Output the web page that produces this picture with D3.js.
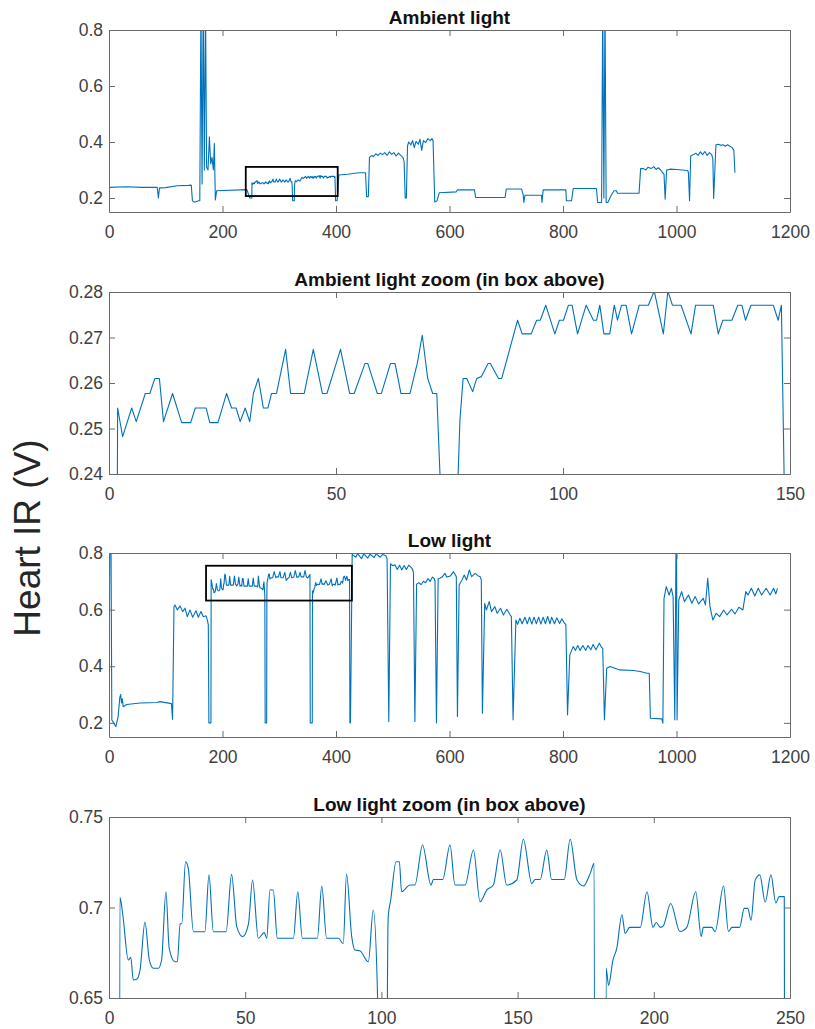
<!DOCTYPE html>
<html>
<head>
<meta charset="utf-8">
<script src="https://cdn.jsdelivr.net/npm/d3@7"></script>
<style>
body { margin: 0; background: #fff; }
text { font-family: Arial, "Liberation Sans", Helvetica, sans-serif; }
</style>
</head>
<body>
<svg id="chart" width="815" height="1029"></svg>
<script>
// ---- data: [sample, volts] ----
var ambientHead = [[0,0.238],[30,0.24],[60,0.238],[85,0.238],[87,0.2],[89,0.236],[100,0.237],[120,0.244],[140,0.245],[145,0.246],[147,0.19],[150,0.185],[158,0.19],[160,0.19],[162,0.9],[164,0.25],[166,0.9],[168,0.3],[170,0.9],[172,0.31],[174.5,0.3],[176.9,0.419],[179.2,0.322],[181.5,0.345],[183.9,0.3],[185.6,0.395],[187.4,0.193],[189.7,0.226],[243,0.23],[248,0.2]];

var ambientZoom = [[0,0.2],[1.7,0.2],[1.9,0.2545],[3,0.2482],[5,0.2545],[6,0.2515],[8,0.2577],[9,0.2577],[10.1,0.261],[11.1,0.261],[12,0.2515],[14,0.2577],[16,0.2513],[18,0.2513],[19,0.2545],[21.4,0.2545],[22.2,0.2513],[24,0.2513],[25.9,0.2577],[27,0.2545],[28,0.2545],[28.9,0.2515],[30,0.2545],[31,0.2515],[31.8,0.2577],[32.9,0.261],[34,0.2545],[35,0.2545],[35.8,0.2577],[36.9,0.2577],[38.9,0.2674],[40,0.2577],[43,0.2577],[45,0.2674],[47,0.2577],[48,0.2577],[51,0.2674],[53,0.2577],[54,0.2577],[56.4,0.2643],[57,0.2643],[59.1,0.2577],[60,0.2577],[62,0.2643],[63,0.2643],[64.3,0.2577],[66.3,0.2577],[67.9,0.2643],[69,0.2705],[70.2,0.261],[71.3,0.2577],[72.2,0.2577],[72.9,0.24],[73.5,0.19],[76.5,0.19],[76.9,0.24],[77.3,0.2519],[78,0.261],[78.8,0.261],[80.1,0.2581],[81,0.261],[82,0.2614],[83.5,0.2643],[84,0.2643],[85.8,0.261],[86.5,0.261],[90,0.2738],[91,0.2708],[93,0.2708],[94.2,0.2738],[95,0.2738],[96.2,0.2771],[98.2,0.2708],[99.2,0.2738],[100.1,0.2738],[101.2,0.2771],[102,0.2771],[103.2,0.2708],[105.1,0.2771],[106.7,0.2738],[107.4,0.2738],[108.1,0.2771],[109,0.2708],[110.3,0.2708],[111.3,0.2771],[112,0.2738],[112.9,0.2771],[113.9,0.2771],[115.1,0.2708],[116.8,0.2771],[118.8,0.2771],[120.1,0.2802],[122.1,0.2708],[123.1,0.2802],[124.1,0.2771],[126,0.2771],[128.2,0.2708],[129.2,0.2771],[133.1,0.2771],[134.2,0.2708],[135.2,0.2738],[137.2,0.2738],[138.5,0.2771],[139.4,0.2771],[140.2,0.2738],[141.4,0.2771],[146.3,0.2771],[147.4,0.2738],[148.1,0.2771],[148.7,0.24],[149.3,0.19]];

var ambientTail = [[402,0.19],[405,0.282],[420,0.285],[440,0.29],[452,0.29],[454,0.205],[457,0.205],[459,0.345],[463,0.352],[466,0.348],[470,0.358],[474,0.352],[478,0.36],[482,0.355],[486,0.362],[490,0.352],[494,0.365],[498,0.356],[502,0.362],[506,0.35],[510,0.36],[514,0.352],[518,0.345],[520,0.33],[522,0.2],[524,0.2],[526,0.385],[528,0.4],[532,0.39],[535,0.405],[538,0.38],[541,0.402],[545,0.392],[548,0.41],[551,0.37],[554,0.405],[558,0.398],[562,0.412],[566,0.405],[569,0.412],[571,0.405],[574,0.186],[578,0.19],[582,0.219],[612,0.222],[614,0.229],[644,0.229],[646,0.202],[698,0.202],[700,0.232],[727,0.232],[730,0.21],[731,0.184],[733,0.21],[762,0.21],[763,0.184],[765,0.229],[805,0.229],[806,0.19],[815,0.19],[818,0.234],[859,0.234],[861,0.184],[868,0.184],[870,0.9],[872,0.2],[874,0.9],[876,0.184],[879,0.184],[885,0.21],[890,0.226],[894,0.226],[896,0.217],[934,0.217],[936.8,0.305],[942,0.305],[946,0.3],[950,0.31],[955,0.305],[960,0.312],[964,0.302],[968,0.308],[972,0.3],[976,0.29],[978,0.285],[980,0.196],[982.6,0.3],[990,0.303],[1000,0.302],[1010,0.3],[1020,0.298],[1021,0.29],[1023,0.19],[1025,0.35],[1030,0.355],[1034,0.36],[1038,0.352],[1042,0.365],[1046,0.355],[1050,0.366],[1054,0.352],[1058,0.362],[1062,0.355],[1064,0.34],[1065.5,0.198],[1069.5,0.39],[1074,0.392],[1078,0.388],[1082,0.39],[1086,0.385],[1090,0.39],[1094,0.385],[1098,0.38],[1101,0.37],[1103,0.29]];

var lowHead = [[0,0.255],[1.5,0.85],[3.5,0.85],[5,0.21],[8,0.2],[12,0.187],[16,0.22],[19,0.29],[20.6,0.3],[22,0.27],[23.5,0.285],[25,0.257],[31,0.265],[55,0.27],[84,0.272],[90,0.275],[110,0.268],[112,0.213],[114.5,0.61],[116.3,0.6165],[120.4,0.599],[125.1,0.613],[129.8,0.593],[133.9,0.605],[138,0.575],[142.7,0.599],[147.4,0.573],[153.3,0.596],[157.4,0.573],[162.1,0.593],[166.2,0.575],[170.9,0.578],[173.3,0.5635],[175,0.546],[176,0.2]];

var lowZoom = [[0,0.2],[3.65,0.2],[4,0.7056],[5,0.6968],[7.1,0.671],[8,0.6725],[8.9,0.66],[10.2,0.6604],[11.4,0.6655],[13.2,0.692],[14.8,0.671],[16.3,0.6664],[18.1,0.6664],[19.3,0.671],[20.9,0.7087],[22.1,0.6774],[24.2,0.670],[25.1,0.670],[26.1,0.691],[26.7,0.691],[28.1,0.7253],[29.1,0.7217],[31,0.6866],[35.2,0.6866],[36.7,0.718],[38.3,0.6866],[43,0.6866],[45,0.7183],[46.9,0.6894],[49.1,0.6839],[51.2,0.691],[52.7,0.7152],[54.8,0.683],[57,0.6861],[57.9,0.683],[59.1,0.7097],[60.3,0.7097],[61.8,0.683],[67.7,0.683],[69.3,0.7087],[71,0.683],[76.5,0.683],[78.1,0.7118],[79.9,0.683],[84.2,0.683],[86,0.680],[87.2,0.7185],[89.1,0.6839],[90.3,0.6765],[92.1,0.6761],[95.2,0.670],[97,0.6986],[98.6,0.65],[99.2,0.2],[101.8,0.2],[102.2,0.65],[102.5,0.695],[103.4,0.704],[105.4,0.7253],[106.6,0.7253],[107.4,0.7087],[110.5,0.7124],[112.3,0.7124],[115.1,0.7345],[118.2,0.7124],[119.1,0.7155],[122.5,0.7155],[125.2,0.7345],[127,0.7124],[130.7,0.7124],[133.8,0.7318],[136.2,0.7032],[138.7,0.7097],[141.1,0.7124],[143.6,0.7318],[146,0.7124],[149.7,0.7152],[152.1,0.7377],[155.2,0.7133],[156.4,0.7155],[158.3,0.7155],[160.7,0.7318],[162.5,0.7155],[167.1,0.7155],[169.3,0.7377],[171.8,0.7152],[174.2,0.7119],[176.7,0.719],[178.1,0.7244],[178.6,0.2],[182.2,0.2],[182.5,0.6664],[183.4,0.657],[185,0.671],[186.4,0.6774],[188.3,0.696],[189.5,0.6857],[191.1,0.689],[195,0.689],[197.5,0.7087],[199.7,0.689],[200.9,0.6917],[202.4,0.689],[203.5,0.6899],[206.2,0.7022],[209.6,0.6867],[212.1,0.689],[215.4,0.7087],[217.4,0.684],[218.2,0.689],[221.3,0.689],[222.5,0.6867],[225.6,0.7119],[227.4,0.6867],[228.7,0.689],[231.5,0.689],[233.2,0.6995],[234.5,0.6995],[235.7,0.693],[237.2,0.715],[238.9,0.718],[240.9,0.703],[243,0.718],[244.8,0.7025],[246,0.706],[247.9,0.706],[248.5,0.2]];

var lowTail = [[425.5,0.2],[428.5,0.795],[435,0.785],[438,0.798],[445,0.78],[449,0.797],[456,0.782],[460,0.796],[467,0.784],[471,0.797],[478,0.785],[482,0.795],[488,0.79],[490,0.78],[493,0.205],[496,0.762],[500,0.755],[504,0.758],[508,0.742],[512,0.757],[516,0.74],[520,0.756],[524,0.742],[528,0.757],[532,0.75],[535,0.742],[536.5,0.73],[539,0.205],[542,0.69],[546,0.695],[550,0.688],[554,0.70],[558,0.695],[562,0.71],[566,0.70],[570,0.715],[573,0.71],[574.5,0.7],[577,0.2],[580,0.71],[583,0.7106],[587,0.715],[592,0.7282],[595,0.715],[598,0.7165],[602,0.72],[607,0.7341],[612,0.7165],[614,0.2224],[617,0.687],[622,0.7047],[626,0.7224],[630,0.7047],[635,0.74],[639,0.7165],[645,0.7282],[650,0.72],[654,0.7165],[656,0.7047],[658,0.234],[662,0.6224],[665,0.5988],[670,0.6282],[674,0.5929],[680,0.6106],[684,0.587],[690,0.6047],[695,0.5812],[701,0.6012],[707,0.5812],[709,0.5753],[712,0.2106],[717,0.5635],[720,0.548],[724,0.5694],[728,0.55],[733,0.5733],[737,0.55],[741,0.5733],[745,0.549],[749,0.5733],[753,0.55],[757,0.5733],[761,0.549],[765,0.5733],[769,0.55],[773,0.5756],[777,0.55],[780,0.5733],[785,0.55],[789,0.571],[794,0.551],[798,0.5674],[803,0.551],[805,0.548],[808,0.2282],[812,0.44],[818,0.4694],[822,0.456],[826,0.4733],[830,0.456],[835,0.4733],[840,0.456],[844,0.4733],[849,0.458],[853,0.4768],[858,0.458],[864,0.4815],[868,0.466],[870,0.4635],[873,0.2106],[877,0.3929],[883,0.3988],[900,0.387],[924,0.3847],[936,0.3812],[948,0.3753],[952,0.3753],[954,0.2165],[974,0.2141],[976,0.1988],[978,0.64],[982,0.6812],[987,0.6518],[991,0.6753],[994,0.6459],[997,0.2106],[999,0.8],[1000,0.88],[1001,0.2106],[1004,0.6341],[1009,0.6635],[1014,0.6282],[1021,0.6518],[1027,0.6224],[1033,0.6459],[1039,0.62],[1047,0.64],[1051,0.6165],[1055,0.7106],[1059,0.6106],[1064,0.5635],[1070,0.587],[1076,0.5753],[1083,0.5988],[1089,0.5812],[1097,0.6012],[1103,0.5847],[1110,0.6082],[1117,0.5988],[1122,0.6635],[1126,0.6518],[1132,0.6753],[1138,0.6482],[1144,0.6753],[1150,0.6518],[1158,0.6753],[1165,0.6518],[1171,0.6753],[1175,0.6553],[1178,0.6753]];

// where the zoom windows start in the full recordings
var ambientZoomStart = 250;
var lowZoomStart = 176;

// zoom boxes [x0, x1, y0, y1]
var ambientBox = [241, 403, 0.207, 0.311];
var lowBox = [171, 428, 0.632, 0.755];

var titles = ['Ambient light', 'Ambient light zoom (in box above)', 'Low light', 'Low light zoom (in box above)'];
var fullXTicks = [0, 200, 400, 600, 800, 1000, 1200];
var fullXLabels = ['0', '200', '400', '600', '800', '1000', '1200'];
var fullYTicks = [0.2, 0.4, 0.6, 0.8];
var fullYLabels = ['0.2', '0.4', '0.6', '0.8'];
var ambientZoomXTicks = [0, 50, 100, 150];
var ambientZoomXLabels = ['0', '50', '100', '150'];
var ambientZoomYTicks = [0.24, 0.25, 0.26, 0.27, 0.28];
var ambientZoomYLabels = ['0.24', '0.25', '0.26', '0.27', '0.28'];
var lowZoomXTicks = [0, 50, 100, 150, 200, 250];
var lowZoomXLabels = ['0', '50', '100', '150', '200', '250'];
var lowZoomYTicks = [0.65, 0.7, 0.75];
var lowZoomYLabels = ['0.65', '0.7', '0.75'];

function shift(arr, dx) {
    return arr.map(function(d){ return [d[0] + dx, d[1]]; });
}

var ambientFull = ambientHead.concat(shift(ambientZoom, ambientZoomStart), ambientTail);
var lowFull = lowHead.concat(shift(lowZoom, lowZoomStart), lowTail);

var svg = d3.select('#chart');
svg.append('rect').attr('width', 815).attr('height', 1029).attr('fill', '#fff');

var left = 109, right = 790;
var axisColor = '#6a6a6a';

var panels = [
    {key: 'a', top: 30, bottom: 212, xDomain: [0, 1200], yDomain: [0.15, 0.8], xTicks: fullXTicks, xLabels: fullXLabels, yTicks: fullYTicks, yLabels: fullYLabels, data: ambientFull, box: ambientBox, title: titles[0], curve: d3.curveLinear},
    {key: 'b', top: 292, bottom: 474, xDomain: [0, 150], yDomain: [0.24, 0.28], xTicks: ambientZoomXTicks, xLabels: ambientZoomXLabels, yTicks: ambientZoomYTicks, yLabels: ambientZoomYLabels, data: ambientZoom, title: titles[1], curve: d3.curveLinear},
    {key: 'c', top: 553, bottom: 737, xDomain: [0, 1200], yDomain: [0.15, 0.8], xTicks: fullXTicks, xLabels: fullXLabels, yTicks: fullYTicks, yLabels: fullYLabels, data: lowFull, box: lowBox, title: titles[2], curve: d3.curveLinear},
    {key: 'd', top: 817, bottom: 998, xDomain: [0, 250], yDomain: [0.65, 0.75], xTicks: lowZoomXTicks, xLabels: lowZoomXLabels, yTicks: lowZoomYTicks, yLabels: lowZoomYLabels, data: lowZoom, title: titles[3], curve: d3.curveMonotoneX}
];

function styleAxis(sel) {
    sel.selectAll('.domain').attr('stroke', axisColor).attr('stroke-width', 1);
    sel.selectAll('.tick line').attr('stroke', axisColor).attr('stroke-width', 1);
    sel.selectAll('.tick text').attr('fill', '#404040').style('font-size', '17.5px')
        .style('font-family', 'Arial, "Liberation Sans", sans-serif');
}

function drawPanel(p) {
    var x = d3.scaleLinear().domain(p.xDomain).range([left, right]);
    var y = d3.scaleLinear().domain(p.yDomain).range([p.bottom, p.top]);
    var g = svg.append('g');
    var clipId = 'clip-' + p.key;

    svg.append('clipPath').attr('id', clipId)
        .append('rect')
        .attr('x', left).attr('y', p.top)
        .attr('width', right - left).attr('height', p.bottom - p.top);

    g.append('path')
        .datum(p.data)
        .attr('clip-path', 'url(#' + clipId + ')')
        .attr('fill', 'none')
        .attr('stroke', '#0072BD')
        .attr('stroke-width', 1.1)
        .attr('stroke-linejoin', 'round')
        .attr('d', d3.line().curve(p.curve).x(function(d){ return x(d[0]); }).y(function(d){ return y(d[1]); }));

    // box-style axes, ticks pointing inwards
    g.append('g').attr('transform', 'translate(0,' + p.bottom + ')')
        .call(d3.axisBottom(x).tickValues(p.xTicks).tickSizeInner(-6).tickSizeOuter(0).tickPadding(13.5)
            .tickFormat(function(d, i){ return p.xLabels[i]; }))
        .call(styleAxis);
    g.append('g').attr('transform', 'translate(0,' + p.top + ')')
        .call(d3.axisTop(x).tickValues(p.xTicks).tickSizeInner(-6).tickSizeOuter(0).tickFormat(''))
        .call(styleAxis);
    g.append('g').attr('transform', 'translate(' + left + ',0)')
        .call(d3.axisLeft(y).tickValues(p.yTicks).tickSizeInner(-6).tickSizeOuter(0).tickPadding(6)
            .tickFormat(function(d, i){ return p.yLabels[i]; }))
        .call(styleAxis);
    g.append('g').attr('transform', 'translate(' + right + ',0)')
        .call(d3.axisRight(y).tickValues(p.yTicks).tickSizeInner(-6).tickSizeOuter(0).tickFormat(''))
        .call(styleAxis);

    if (p.box) {
        g.append('rect')
            .attr('x', x(p.box[0])).attr('y', y(p.box[3]))
            .attr('width', x(p.box[1]) - x(p.box[0]))
            .attr('height', y(p.box[2]) - y(p.box[3]))
            .attr('fill', 'none').attr('stroke', '#000').attr('stroke-width', 1.8);
    }

    g.append('text')
        .attr('x', (left + right) / 2).attr('y', p.top - 6.5)
        .attr('text-anchor', 'middle')
        .attr('font-weight', 'bold').attr('font-size', '19px').attr('fill', '#111')
        .text(p.title);
}

panels.forEach(drawPanel);

svg.append('text')
    .attr('transform', 'translate(40,538) rotate(-90)')
    .attr('text-anchor', 'middle')
    .attr('font-size', '37px').attr('fill', '#262626')
    .text('Heart IR (V)');
</script>
</body>
</html>
